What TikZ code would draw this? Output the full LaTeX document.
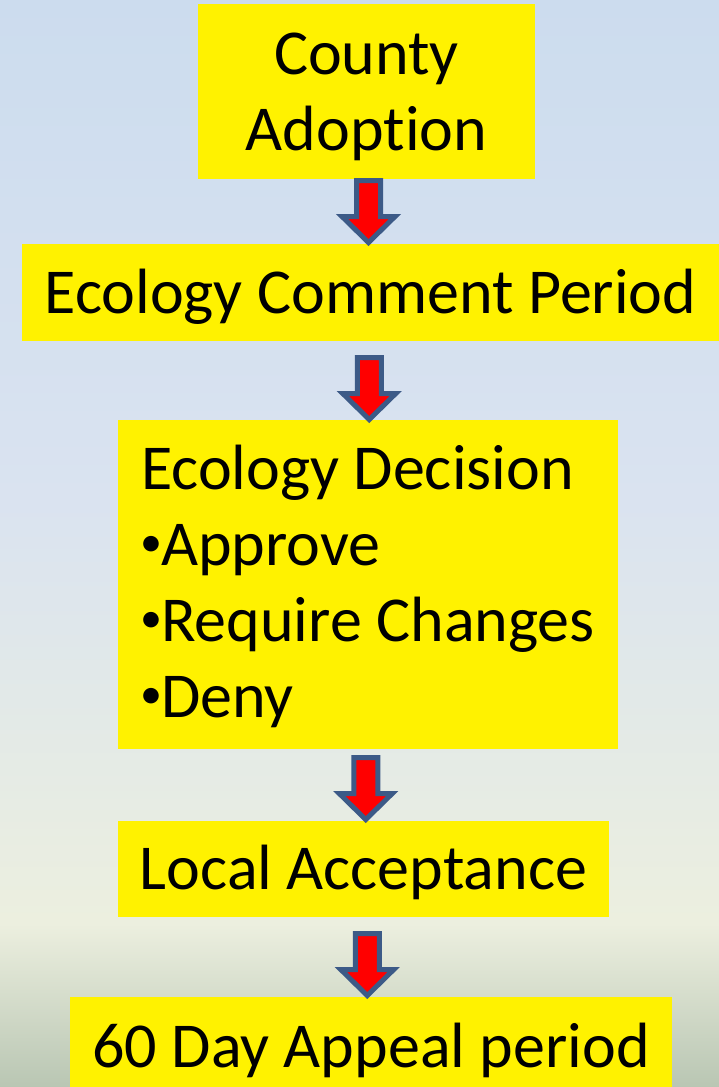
\documentclass[tikz,border=0pt]{standalone}
\usepackage{fontspec}
\setmainfont{Carlito}[Ligatures=NoCommon]
\usetikzlibrary{calc}

\definecolor{skytop}{HTML}{CCDCEE}
\definecolor{skymid}{HTML}{DAE3F0}
\definecolor{mistgray}{HTML}{E2E9E8}
\definecolor{horizon}{HTML}{ECEFDF}
\definecolor{groundlow}{HTML}{B9C6B3}
\definecolor{arrowedge}{HTML}{3C5A87}

\pgfdeclareverticalshading{skyfade}{100bp}{color(0bp)=(groundlow); color(25bp)=(groundlow); color(32.5bp)=(horizon); color(43bp)=(mistgray); color(52bp)=(skymid); color(75bp)=(skytop); color(100bp)=(skytop)}

% smaller bullet, as in the slide
\newcommand{\listdot}{\makebox[20pt][c]{\raisebox{9pt}{\fontsize{44}{76}\selectfont •}}}

\tikzset{
  stage/.style={rectangle, fill=yellow, inner sep=0pt, font=\fontsize{64}{76}\selectfont},
  oneline/.style={text height=41pt, text depth=0pt},
  flowarrow/.style={draw=arrowedge, fill=red, line width=5pt}
}

\begin{document}
\begin{tikzpicture}[x=1pt, y=-1pt]
  \useasboundingbox (0,0) rectangle (719,1087);
  \clip (0,0) rectangle (719,1087);
  \shade[shading=skyfade] (0,0) rectangle (719,1087);

  \node[stage, align=center, text depth=0pt, minimum width=337, minimum height=175] (county) at (366.5,91.5) {County\\Adoption};
  \node[stage, oneline, minimum width=697, minimum height=97] (comment) at (370.5,292.5) {Ecology Comment Period};
  \node[stage, align=left, text depth=6pt, minimum width=500, minimum height=329] (decision) at (368,584.5) {Ecology Decision\\\listdot Approve\\\listdot Require Changes\\\listdot Deny};
  \node[stage, oneline, minimum width=491, minimum height=96] (local) at (363.5,869) {Local Acceptance};
  \node[stage, oneline, minimum width=602, minimum height=99] (appeal) at (371,1046.5) {60 Day Appeal period};

  \foreach \source/\dest/\yshiftval in {
    county/comment/0, comment/decision/8, decision/local/3.5, local/appeal/7.5}
    \draw[flowarrow] ($(\source.south)!.5!(\dest.north)+(0,\yshiftval)$) ++(-12,-31) -- ++(24,0) -- ++(0,36) -- ++(14.5,0) -- ++(-26.5,26) -- ++(-26.5,-26) -- ++(14.5,0) -- cycle;
\end{tikzpicture}
\end{document}
